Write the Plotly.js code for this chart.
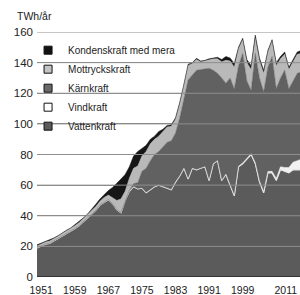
<!DOCTYPE html>
<html><head><meta charset="utf-8">
<script src="https://cdn.plot.ly/plotly-3.0.1.min.js"></script>
<style>html,body{margin:0;padding:0;background:#fff}#chart{width:300px;height:295px}</style>
</head><body><div id="chart"></div>
<script>
const years = [];
for (let y = 1950; y <= 2013; y++) years.push(y);

const vattenkraft = [19,20.2,21.5,22,23.5,25,27,28.5,30,31.5,33.5,36,38.5,41,43.5,47,49,50.5,48,44,42,50,56,59,57.5,58,55,57,59,60,
  59,58,57,62,66,71,64,71,70,71,72,63,74,76,63,67,60,53,72,74,77,80,74,62,55,68,68,63,70,69,68,70,70,70];
const vindkraft = [0,0,0,0,0,0,0,0,0,0,0,0,0,0,0,0,0,0,0,0,0,0,0,0,0,0,0,0,0,0,
  0,0,0,0,0,0,0,0,0,0,0,0,0,0,0.1,0.1,0.2,0.2,0.3,0.4,0.5,0.5,0.6,0.6,0.8,0.9,1,1.4,2,2.5,3.5,5,6,7];
const karnkraft = [0,0,0,0,0,0,0,0,0,0,0,0,0,0,0,0,0,0,0,0,0,0,0.5,2,4,11,16,19,21,22,
  26,30,32,32,38,45,64.7,61,65,64.5,64,73.3,61,57,66.9,59.4,69.8,69.8,65.7,71.6,50.5,41.5,71.4,67.4,65.2,68.1,75,58.6,58,63.5,51.5,53,57,57];
const mottryckskraft = [1.3,1.3,1.4,1.5,1.5,1.6,1.6,1.7,1.7,2,2,2,2,2.3,2.5,2.5,3,3,4,6,9,6,8,10,11,10,11,11,10,10,
  10,10,9.5,9,9,9,9.5,7.5,7,5,5,5.7,7.5,9.5,10.5,15,11,14,11,9,12,13.5,10,11,12,10,10,15,12.5,10.5,12.5,12.5,12.5,12];
const kondenskraft = [0.7,0.5,0.6,0.5,0.5,0.4,0.4,0.3,0.3,0.5,0.5,0.5,0.5,0.7,1.5,1.5,2,3,6.5,11,13,11,7.5,8,9.5,5,4,3,2,3,
  1.5,1,1,1,1,1,0.8,0.5,0.8,0.5,0.5,0.5,0.7,1,1.5,2.5,2,2.5,1,1,2,2.5,2,2,2,1,1,2,1.5,1.5,1.5,1.5,1.5,2];

const yTicks = [0,20,40,60,80,100,120,140,160];
const xTicks = [1951,1959,1967,1975,1983,1991,1999,2011];
const xTickText = ['1951','1959','1967','1975','1983','1991','1999','2011\u00A0\u00A0\u00A0\u00A0\u00A0'];

const legendNames = ['Kondenskraft med mera','Mottryckskraft','Kärnkraft','Vindkraft','Vattenkraft'];
const legendColors = ['#111111','#c4c4c4','#6a6a6a','#ffffff','#5a5a5a'];

const stackColors = {hydro:'#5b5b5b', wind:'#f2f2f2', nuc:'#616161', mot:'#b9b9b9', kon:'#161616'};

function area(name, vals, color, lineColor, lineWidth){
  return {x: years, y: vals, name: name, type:'scatter', mode:'lines', stackgroup:'one',
    fillcolor: color, line:{color: lineColor || color, width: lineWidth===undefined?0.5:lineWidth, shape:'linear'},
    showlegend:false, hoverinfo:'skip'};
}
const traces = [
  area('Vattenkraft', vattenkraft, stackColors.hydro, '#e6e6e6', 1.2),
  area('Vindkraft', vindkraft, stackColors.wind),
  area('Kärnkraft', karnkraft, stackColors.nuc),
  area('Mottryckskraft', mottryckskraft, stackColors.mot),
  area('Kondenskraft med mera', kondenskraft, stackColors.kon)
];
legendNames.forEach((n,i)=>{
  traces.push({x:[null], y:[null], type:'scatter', mode:'markers', name:n, showlegend:true,
    marker:{symbol:'square', size:8, color:legendColors[i], line:{color:'#111', width:1}}});
});

const shapes = yTicks.filter(v=>v>0).map(v=>({type:'line', xref:'paper', x0:0, x1:1, yref:'y', y0:v, y1:v,
  line:{color:'#8e8e8e', width:1}, layer:'above'}));
shapes.push({type:'line', xref:'paper', x0:0, x1:1, yref:'y', y0:0, y1:0, line:{color:'#333', width:2}, layer:'above'});

const layout = {
  width:300, height:295,
  margin:{l:37, r:0, t:32, b:18, pad:0},
  paper_bgcolor:'#fff', plot_bgcolor:'#fff',
  font:{family:'Liberation Sans, Arial, sans-serif', color:'#222', size:10},
  showlegend:true,
  legend:{x:-0.034, xanchor:'left', y:0.985, yanchor:'top', bgcolor:'rgba(0,0,0,0)', borderwidth:0,
    font:{family:'Liberation Sans, Arial, sans-serif', size:10, color:'#222'}, traceorder:'normal', itemclick:false},
  xaxis:{range:[1950, 2012.65], tickmode:'array', tickvals:xTicks, ticktext:xTickText,
    showgrid:false, zeroline:false, showline:false, ticks:'', tickfont:{size:10.5, color:'#1a1a1a'},
    ticklabeloverflow:'allow', ticklabelstandoff:5, fixedrange:true},
  yaxis:{range:[0,160], tickmode:'array', tickvals:yTicks, ticktext:yTicks.map(String),
    showgrid:true, gridcolor:'#888', gridwidth:1, zeroline:false, showline:false, ticks:'',
    tickfont:{size:11.5, color:'#222'}, ticklabelstandoff:3, fixedrange:true},
  shapes: shapes,
  annotations:[{text:'TWh/år', xref:'paper', yref:'paper', x:-22/263, y:1+16/245, xanchor:'left', yanchor:'middle',
    showarrow:false, font:{size:10.5, color:'#222'}}]
};
Plotly.newPlot('chart', traces, layout, {displayModeBar:false, staticPlot:true});
</script></body></html>
